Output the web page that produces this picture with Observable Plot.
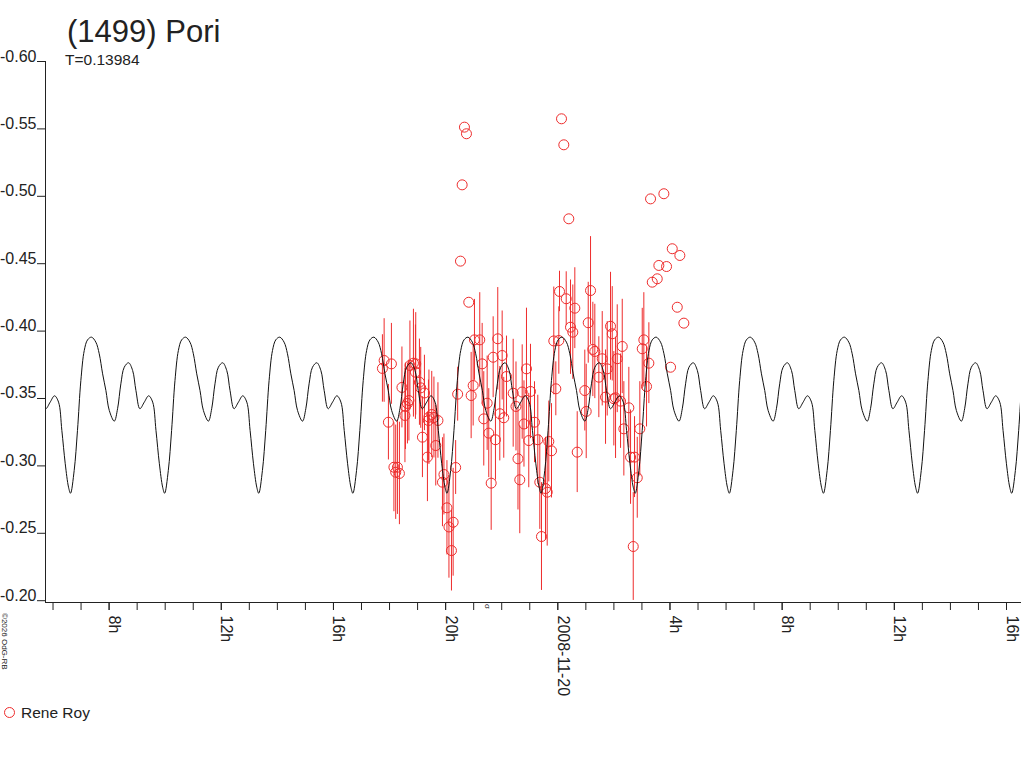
<!DOCTYPE html>
<html>
<head>
<meta charset="utf-8">
<script src="https://cdn.jsdelivr.net/npm/d3@7"></script>
<script src="https://cdn.jsdelivr.net/npm/@observablehq/plot@0.6"></script>
<style>
  html, body { margin: 0; padding: 0; background: #fff; overflow: hidden; }
  #wrap { position: relative; width: 1024px; height: 768px; font-family: Arial, "Liberation Sans", sans-serif; color: #222; }
  #chart { position: absolute; left: 0; top: 0; }
  .ov { position: absolute; white-space: nowrap; line-height: 1; }
  #title { left: 67px; top: 16px; font-size: 31px; }
  #subtitle { left: 65px; top: 52px; font-size: 15.5px; }
  #legend { left: 3px; top: 705px; font-size: 15.5px; display: flex; align-items: center; }
  #legend svg { margin-right: 5px; }
  #copy { left: 8px; top: 613px; font-size: 8px; line-height: 8px; transform-origin: 0 0; transform: rotate(90deg); }
  #mark { left: 491px; top: 604px; font-size: 8px; line-height: 8px; transform-origin: 0 0; transform: rotate(90deg); }
</style>
</head>
<body>
<div id="wrap">
  <div id="chart"></div>
  <div class="ov" id="title">(1499) Pori</div>
  <div class="ov" id="subtitle">T=0.13984</div>
  <div class="ov" id="copy">©2026 OdG-RB</div>
  <div class="ov" id="mark">σ</div>
  <div class="ov" id="legend"><svg width="13" height="13"><circle cx="6.5" cy="6.5" r="5" fill="none" stroke="#ee2c2c" stroke-width="1"></circle></svg><span>Rene Roy</span></div>
</div>
<script>
// ---- data (hours relative to 2008-11-20 00:00 UT, magnitudes) ----
const periodDays = 0.13984;
const epochHours = -17.376;          // time of a deep minimum of the fitted curve
const xDomainHours = [-18.268, 16.499];
const yDomain = [-0.60, -0.19866];
const yTicks = [-0.60, -0.55, -0.50, -0.45, -0.40, -0.35, -0.30, -0.25, -0.20];
const xLabelHours = [-16, -12, -8, -4, 0, 4, 8, 12, 16];
const xLabelText = ["8h", "12h", "16h", "20h", "2008-11-20", "4h", "8h", "12h", "16h"];
const xTickHours = d3.range(-18, 17, 1);

// fitted lightcurve shape over one period (phase, mag)
const curvePhase = [0.000, 0.039, 0.074, 0.110, 0.146, 0.181, 0.223, 0.269, 0.305, 0.341, 0.376, 0.412, 0.465, 0.500, 0.535, 0.571, 0.617, 0.660, 0.695, 0.737, 0.784, 0.830, 0.873, 0.908, 0.944, 0.979];
const curveMag   = [-0.2797, -0.2966, -0.3263, -0.3634, -0.3856, -0.3935, -0.3955, -0.3918, -0.3832, -0.3683, -0.3559, -0.3411, -0.3332, -0.3424, -0.3609, -0.3732, -0.3765, -0.3708, -0.3559, -0.3424, -0.3473, -0.3520, -0.3473, -0.3263, -0.3016, -0.2842];

// observations with error bars (Rene Roy)
const obsHours = [-6.193,-6.254,-5.933,-6.040,-5.844,-5.719,-5.780,-5.648,-5.558,-5.433,-5.362,-5.451,-5.309,-5.273,-5.148,-5.066,-5.077,-4.934,-4.888,-4.756,-4.827,-4.649,-4.595,-4.495,-4.613,-4.417,-4.274,-4.352,-4.060,-4.113,-3.953,-3.882,-3.732,-3.792,-3.571,-3.643,-2.972,-2.783,-2.697,-3.018,-3.090,-2.519,-2.640,-2.462,-2.376,-2.305,-2.141,-1.984,-2.223,-2.069,-1.927,-1.830,-1.591,-1.491,-1.420,-1.356,-1.270,-1.117,-0.974,-1.206,-0.831,-1.035,-0.714,-0.642,-0.582,-0.439,-0.378,-0.321,-0.225,-0.143,0.036,-0.071,0.061,0.300,0.607,1.167,0.453,0.535,1.085,1.249,1.320,1.880,1.941,1.584,1.762,1.463,0.963,1.702,1.998,1.013,0.692,2.298,2.119,3.068,3.011,3.247,3.164,2.059,2.237,2.533,2.355,2.925,2.594,2.736,2.833,2.690];
const obsMag = [-0.3782,-0.3723,-0.3757,-0.3324,-0.2990,-0.2990,-0.2953,-0.2944,-0.3582,-0.3441,-0.3463,-0.3374,-0.3485,-0.3745,-0.3762,-0.3757,-0.3695,-0.3621,-0.3579,-0.3541,-0.3213,-0.3065,-0.3361,-0.3381,-0.3337,-0.3359,-0.3337,-0.3151,-0.2936,-0.2879,-0.2689,-0.2547,-0.2582,-0.2372,-0.3532,-0.2988,-0.3935,-0.3935,-0.3757,-0.3596,-0.3522,-0.3465,-0.3349,-0.3243,-0.2872,-0.3806,-0.3943,-0.3819,-0.3194,-0.3387,-0.3357,-0.3663,-0.3539,-0.3441,-0.3053,-0.2897,-0.3548,-0.3720,-0.3552,-0.3311,-0.3324,-0.3188,-0.3194,-0.2879,-0.2476,-0.2832,-0.2805,-0.3181,-0.3112,-0.3927,-0.3930,-0.3572,-0.4294,-0.4240,-0.4170,-0.4301,-0.4029,-0.3992,-0.4062,-0.3864,-0.3849,-0.4036,-0.3980,-0.3795,-0.3720,-0.3658,-0.3559,-0.3510,-0.3498,-0.3404,-0.3102,-0.3886,-0.3795,-0.3935,-0.3869,-0.3762,-0.3589,-0.3505,-0.3480,-0.3431,-0.3275,-0.3275,-0.3065,-0.3065,-0.2912,-0.2402];
const obsErr = [0.031,0.025,0.030,0.028,0.033,0.035,0.035,0.038,0.030,0.032,0.030,0.035,0.030,0.033,0.040,0.038,0.035,0.032,0.030,0.028,0.030,0.033,0.035,0.032,0.030,0.030,0.028,0.030,0.030,0.033,0.035,0.038,0.040,0.030,0.020,0.020,0.030,0.035,0.030,0.030,0.032,0.035,0.035,0.033,0.035,0.030,0.038,0.033,0.030,0.035,0.030,0.030,0.040,0.033,0.038,0.040,0.035,0.045,0.035,0.032,0.030,0.035,0.033,0.035,0.040,0.038,0.040,0.030,0.035,0.040,0.025,0.020,0.015,0.020,0.030,0.040,0.035,0.035,0.030,0.035,0.035,0.040,0.035,0.035,0.035,0.030,0.030,0.035,0.035,0.035,0.030,0.035,0.040,0.035,0.030,0.030,0.030,0.045,0.035,0.030,0.035,0.035,0.035,0.030,0.030,0.040];

// observations without error bars
const outHours = [-3.329,-3.257,-3.411,-3.471,-3.175,0.132,0.214,0.392,3.307,3.782,4.081,4.352,3.603,3.878,3.546,3.368,4.260,4.495,4.021];
const outMag = [-0.5513,-0.5464,-0.5085,-0.4519,-0.4214,-0.5575,-0.5382,-0.4833,-0.4981,-0.5019,-0.4611,-0.4561,-0.4487,-0.4479,-0.4388,-0.4363,-0.4177,-0.4059,-0.3732];

// ---- build ----
const base = Date.UTC(2008, 10, 20);
const toDate = h => new Date(base + h * 3600e3);
const red = "#ee2c2c";
const ink = "#222";

const obs = obsHours.map((h, i) => ({t: toDate(h), m: obsMag[i], e: obsErr[i]}));
const outs = outHours.map((h, i) => ({t: toDate(h), m: outMag[i]}));

const P = periodDays * 24;
const curve = [];
const k0 = Math.floor((xDomainHours[0] - epochHours) / P) - 1;
const k1 = Math.ceil((xDomainHours[1] - epochHours) / P) + 1;
for (let k = k0; k <= k1; k++) {
  curvePhase.forEach((p, i) => curve.push({t: toDate(epochHours + (k + p) * P), m: curveMag[i]}));
}

const labelMap = new Map(xLabelHours.map((h, i) => [+toDate(h), xLabelText[i]]));

const chart = Plot.plot({
  width: 1024,
  height: 768,
  marginLeft: 45,
  marginRight: 4,
  marginTop: 61,
  marginBottom: 166,
  style: {fontFamily: 'Arial, "Liberation Sans", sans-serif', color: ink, background: "transparent"},
  x: {type: "utc", domain: xDomainHours.map(toDate)},
  y: {domain: yDomain, reverse: true},
  marks: [
    Plot.ruleX(obs, {x: "t", y1: d => d.m - d.e, y2: d => d.m + d.e, stroke: red, strokeWidth: 1}),
    Plot.dot(obs, {x: "t", y: "m", r: 5, stroke: red, fill: "none", strokeWidth: 1}),
    Plot.dot(outs, {x: "t", y: "m", r: 5, stroke: red, fill: "none", strokeWidth: 1}),
    Plot.line(curve, {x: "t", y: "m", stroke: "#111", strokeWidth: 1, curve: "catmull-rom", clip: true}),
    Plot.frame({anchor: "left", stroke: ink}),
    Plot.frame({anchor: "bottom", stroke: ink}),
    Plot.axisY({ticks: yTicks, tickSize: 8, tickPadding: 1, lineAnchor: "bottom", tickFormat: d => d.toFixed(2), fontSize: 16, label: null, stroke: ink, fill: ink}),
    Plot.axisX({ticks: xTickHours.map(toDate), tickSize: 8, fill: "none", label: null, stroke: ink}),
    Plot.axisX({ticks: xLabelHours.map(toDate), tickSize: 8, tickRotate: 90, tickPadding: 5, textAnchor: "start", lineAnchor: "bottom", tickFormat: d => labelMap.get(+d), fontSize: 16, label: null, stroke: ink, fill: ink})
  ]
});
document.getElementById("chart").appendChild(chart);
</script>
</body>
</html>
